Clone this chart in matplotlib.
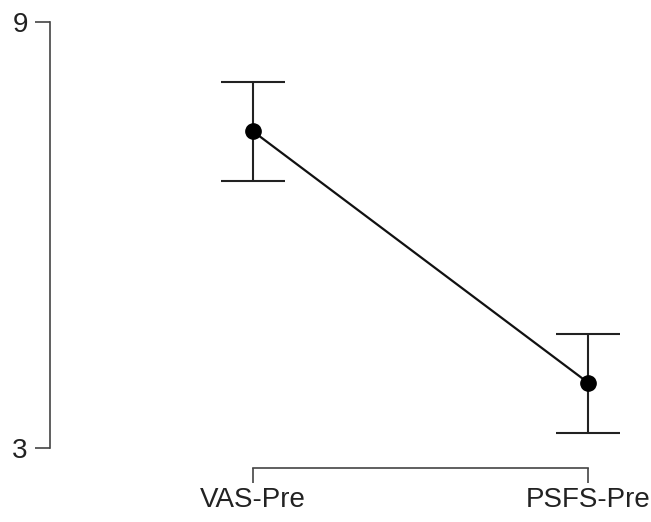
import matplotlib
matplotlib.use("Agg")
import matplotlib.pyplot as plt

# descriptives: mean with interval
categories = ["VAS-Pre", "PSFS-Pre"]
means = [7.46, 3.92]
lower = [6.76, 3.21]
upper = [8.15, 4.61]

plt.rcParams['font.family'] = ['Liberation Sans', 'DejaVu Sans']

fig = plt.figure(figsize=(6.51, 5.22), dpi=100)
ax = fig.add_axes([50 / 651, 1 - 448 / 522, 590 / 651, 426 / 522])

x = list(range(len(categories)))
yerr = [[m - l for m, l in zip(means, lower)], [u - m for m, u in zip(means, upper)]]
ax.errorbar(x, means, yerr=yerr, fmt='none', ecolor='#222222', elinewidth=1.5,
            capsize=23, capthick=1.5, zorder=2)
ax.plot(x, means, c='#111111', linewidth=1.6, zorder=3)
ax.plot(x, means, 'o', c='black', markersize=11, zorder=4)

ax.set_xlim(-0.606, 1.155)
ax.set_ylim(3, 9)
ax.set_xticks(x)
ax.set_xticklabels(categories)
ax.set_yticks([3, 9])
ax.set_yticklabels(['3', '9'])

for s in ['top', 'right']:
    ax.spines[s].set_visible(False)
ax.spines['bottom'].set_position(('outward', 14.4))
ax.spines['bottom'].set_bounds(0, 1)
ax.spines['left'].set_bounds(3, 9)
for s in ['bottom', 'left']:
    ax.spines[s].set_linewidth(1.2)
    ax.spines[s].set_color('#444444')
ax.tick_params(axis='both', length=11, width=1.2, color='#444444', labelsize=20,
               labelcolor='#222222')
ax.tick_params(axis='y', pad=5)
ax.tick_params(axis='x', pad=3)
ax.patch.set_visible(False)

fig.savefig("out.png", dpi=100)
